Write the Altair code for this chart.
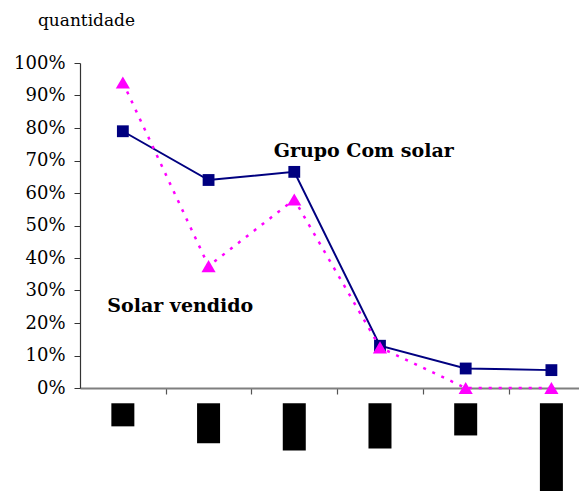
import altair as alt
import pandas as pd

# Data
categories = [1, 2, 3, 4, 5, 6]
grupo_com_solar = [0.79, 0.64, 0.665, 0.13, 0.06, 0.055]
solar_vendido = [0.94, 0.375, 0.58, 0.125, 0.0, 0.0]
# redacted (blacked-out) category labels: depth of each black box, in y-scale units
label_box_top = -0.047
label_box_bottom = [-0.118, -0.170, -0.192, -0.186, -0.146, -0.40]

y_ticks = [i / 10 for i in range(11)]
x_ticks = [1.5, 2.5, 3.5, 4.5, 5.5]

df_g = pd.DataFrame({"cat": categories, "v": grupo_com_solar})
df_s = pd.DataFrame({"cat": categories, "v": solar_vendido})
df_box = pd.DataFrame({"cat": categories, "top": [label_box_top] * 6, "bottom": label_box_bottom})
df_txt = pd.DataFrame({
    "x": [3.81, 1.67],
    "y": [0.728, 0.251],
    "t": ["Grupo Com solar", "Solar vendido"],
})

FONT = "DejaVu Serif"

xscale = alt.Scale(domain=[0.5, 6.322], nice=False, zero=False, padding=0)
yscale = alt.Scale(domain=[0, 1], nice=False, padding=0)

xaxis = alt.Axis(values=x_ticks, labels=False, title=None, grid=False,
                 domainColor="#7f7f7f", domainWidth=2, tickColor="#555555",
                 tickSize=6, tickWidth=1.2)
yaxis = alt.Axis(values=y_ticks, format=".0%", grid=False, title="quantidade",
                 labelOverlap=False,
                 titleAngle=0, titleX=6, titleY=-43, titleAlign="center",
                 titleBaseline="middle", titleFont=FONT, titleFontSize=17,
                 titleFontWeight="normal", titleColor="black",
                 labelFont=FONT, labelFontSize=18, labelColor="black",
                 labelPadding=9, tickSize=6, tickColor="#333333",
                 domainColor="#333333", domainWidth=1.2)


def X(field):
    return alt.X(field, scale=xscale, axis=xaxis)


def Y(field):
    return alt.Y(field, scale=yscale, axis=yaxis)


line_g = alt.Chart(df_g).mark_line(color="#000080", strokeWidth=2).encode(
    x=X("cat:Q"), y=Y("v:Q")
)
pts_g = alt.Chart(df_g).mark_point(shape="square", size=140, filled=True,
                                   color="#000080", opacity=1).encode(
    x=X("cat:Q"), y=Y("v:Q")
)
line_s = alt.Chart(df_s).mark_line(color="#ff00ff", strokeWidth=2.5,
                                   strokeDash=[3, 7]).encode(
    x=X("cat:Q"), y=Y("v:Q")
)
pts_s = alt.Chart(df_s).mark_point(shape="triangle-up", size=200, filled=True,
                                   color="#ff00ff", opacity=1).encode(
    x=X("cat:Q"), y=Y("v:Q")
)
boxes = alt.Chart(df_box).mark_bar(size=23, color="black", clip=False).encode(
    x=X("cat:Q"), y=Y("top:Q"), y2="bottom:Q"
)
texts = alt.Chart(df_txt).mark_text(font=FONT, fontSize=19, fontWeight="bold",
                                    color="black", align="center",
                                    baseline="middle").encode(
    x=X("x:Q"), y=Y("y:Q"), text="t:N"
)

chart = alt.layer(line_g, boxes, line_s, pts_g, pts_s, texts).properties(
    width=499, height=325,
    background="white",
    autosize=alt.AutoSizeParams(type="none"),
    padding={"left": 72, "top": 55, "right": 0, "bottom": 103},
).configure_view(strokeWidth=0, stroke="transparent").configure_axis(grid=False)

chart.save("out.html", embed_options={"renderer": "svg", "actions": False})
